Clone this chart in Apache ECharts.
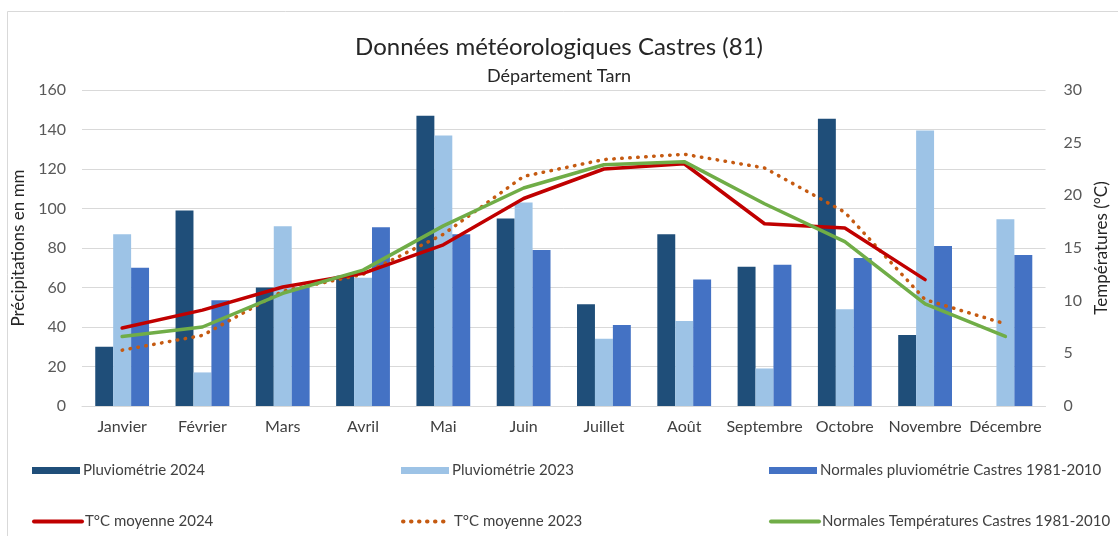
<!DOCTYPE html>
<html>
<head>
<meta charset="utf-8">
<script src="https://cdn.jsdelivr.net/npm/echarts@6/dist/echarts.min.js"></script>
<style>
  html, body { margin: 0; padding: 0; background: #fff; }
  #chart { width: 1118px; height: 536px; }
</style>
</head>
<body>
<div id="chart"></div>
<script>
// mois
const mois = ["Janvier", "Février", "Mars", "Avril", "Mai", "Juin", "Juillet", "Août", "Septembre", "Octobre", "Novembre", "Décembre"];
// précipitations (mm)
const pluvio2024 = [30, 99, 60, 66, 147, 95, 51.5, 87, 70.5, 145.5, 36, null];
const pluvio2023 = [87, 17, 91, 65, 137, 103, 34, 43, 19, 49, 139.5, 94.5];
const pluvioNormales = [70, 53.5, 60, 90.5, 87, 79, 41, 64, 71.5, 75, 81, 76.5];
// températures (°C)
const temp2024 = [7.4, 9.1, 11.3, 12.6, 15.3, 19.7, 22.5, 23.0, 17.3, 16.9, 12.0, null];
const temp2023 = [5.3, 6.7, 10.9, 12.5, 16.3, 21.8, 23.4, 23.9, 22.6, 18.4, 10.1, 7.8];
const tempNormales = [6.6, 7.5, 10.7, 12.9, 17.1, 20.7, 22.9, 23.2, 19.2, 15.6, 9.7, 6.6];

const police = "Lato, 'Open Sans', sans-serif";
const gris = "#595959";

let myChart = echarts.init(document.getElementById("chart"));

// une légende par élément pour garder la grille 3 x 2
function legende(nom, left, top, barre) {
  let l = {
    data: [nom],
    left: left,
    top: top,
    itemWidth: 48,
    itemHeight: barre ? 7 : 14,
    itemGap: 4,
    textStyle: { fontFamily: police, fontSize: 15, color: "#404040", padding: [0, 0, 0, -2] }
  };
  if (barre) {
    l.icon = "rect";
  } else {
    // pas de symbole, seulement le trait
    l.itemStyle = { opacity: 0 };
    l.lineStyle = { width: 4 };
  }
  return l;
}

let option = {
  backgroundColor: "#fff",
  animation: false,
  title: [
    {
      text: "Données météorologiques Castres (81)",
      left: "center",
      top: 30,
      textStyle: { fontFamily: police, fontSize: 24, fontWeight: "normal", color: "#262626" }
    },
    {
      text: "Département Tarn",
      left: "center",
      top: 62,
      textStyle: { fontFamily: police, fontSize: 18, fontWeight: "normal", color: "#262626" }
    }
  ],
  graphic: [
    {
      type: "rect",
      shape: { x: 7.5, y: 11.5, width: 1120, height: 530 },
      style: { fill: "none", stroke: "#d9d9d9", lineWidth: 1 },
      silent: true
    }
  ],
  legend: [
    legende("Pluviométrie 2024", 27, 458, true),
    legende("Pluviométrie 2023", 396, 458, true),
    legende("Normales pluviométrie Castres 1981-2010", 764, 458, true),
    legende("T°C moyenne 2024", 27, 509, false),
    legende("T°C moyenne 2023", 396, 509, false),
    legende("Normales Températures Castres 1981-2010", 764, 509, false)
  ],
  grid: { left: 82, right: 66, top: 90, bottom: 130 },
  xAxis: {
    type: "category",
    data: mois,
    axisLine: { lineStyle: { color: "#d9d9d9", width: 1 } },
    axisTick: { show: false },
    axisLabel: { fontFamily: police, fontSize: 16, color: "#404040", margin: 13, interval: 0 }
  },
  yAxis: [
    {
      type: "value",
      min: 0,
      max: 160,
      interval: 20,
      name: "Précipitations en mm",
      nameLocation: "middle",
      nameGap: 46,
      nameTextStyle: { fontFamily: police, fontSize: 17, color: "#262626" },
      axisLine: { show: false },
      axisTick: { show: false },
      axisLabel: { fontFamily: police, fontSize: 16, color: gris, margin: 16 },
      splitLine: { lineStyle: { color: "#d9d9d9", width: 1 } }
    },
    {
      type: "value",
      min: 0,
      max: 30,
      interval: 5,
      name: "Températures (°C)",
      nameLocation: "middle",
      nameGap: 44,
      nameRotate: 90,
      nameTextStyle: { fontFamily: police, fontSize: 17, color: "#262626" },
      axisLine: { show: false },
      axisTick: { show: false },
      axisLabel: { fontFamily: police, fontSize: 16, color: gris, margin: 18 },
      splitLine: { show: false }
    }
  ],
  series: [
    {
      name: "Pluviométrie 2024",
      type: "bar",
      data: pluvio2024,
      barGap: "0%",
      barCategoryGap: "33%",
      itemStyle: { color: "#1f4e79" }
    },
    {
      name: "Pluviométrie 2023",
      type: "bar",
      data: pluvio2023,
      barGap: "0%",
      barCategoryGap: "33%",
      itemStyle: { color: "#9dc3e6" }
    },
    {
      name: "Normales pluviométrie Castres 1981-2010",
      type: "bar",
      data: pluvioNormales,
      barGap: "0%",
      barCategoryGap: "33%",
      itemStyle: { color: "#4472c4" }
    },
    {
      name: "T°C moyenne 2024",
      type: "line",
      yAxisIndex: 1,
      data: temp2024,
      symbol: "none",
      lineStyle: { color: "#c00000", width: 3.5, join: "round", cap: "round" },
      itemStyle: { color: "#c00000" },
      z: 4
    },
    {
      name: "T°C moyenne 2023",
      type: "line",
      yAxisIndex: 1,
      data: temp2023,
      symbol: "none",
      lineStyle: { color: "#c55a11", width: 3.5, type: [0.5, 7.5], cap: "round", join: "round" },
      itemStyle: { color: "#c55a11" },
      z: 3
    },
    {
      name: "Normales Températures Castres 1981-2010",
      type: "line",
      yAxisIndex: 1,
      data: tempNormales,
      symbol: "none",
      lineStyle: { color: "#70ad47", width: 3.5, join: "round", cap: "round" },
      itemStyle: { color: "#70ad47" },
      z: 5
    }
  ]
};

myChart.setOption(option);
</script>
</body>
</html>
